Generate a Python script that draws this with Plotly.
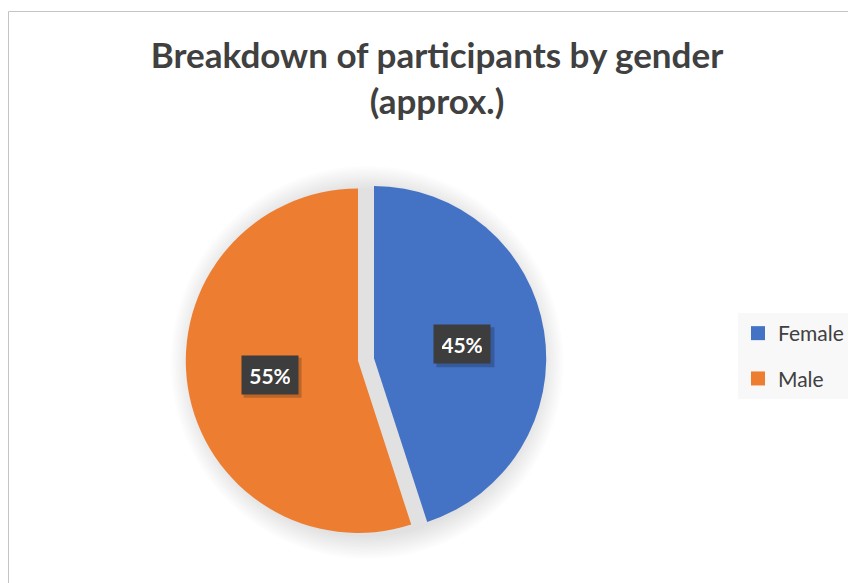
import math
import plotly.graph_objects as go

# ---- data ----
labels = ["Female", "Male"]
values = [45, 55]
colors = ["#4472C4", "#ED7D31"]
title_text = "Breakdown of participants by gender<br>(approx.)"

# the page body adds an 8px margin, so the figure is drawn 8px smaller
OFF = 8
W, H = 856 - OFF, 583 - OFF
PULL = 0.047
CX, CY = 366 - OFF, 359.5 - OFF   # pie centre in figure pixels
R = 172.2                         # slice radius in pixels
HALF = R * (1 + PULL)             # domain half-size in pixels
BOX_W, BOX_H, PAD = 40, 22, 8     # label box text area and padding


def dom(cx, cy, half):
    return dict(x=[(cx - half) / W, (cx + half) / W],
                y=[1 - (cy + half) / H, 1 - (cy - half) / H])


fig = go.Figure()

# soft shadow behind the pie
for k in range(1, 11):
    fig.add_trace(go.Pie(values=[1], labels=["shadow"], sort=False,
                         marker=dict(colors=["rgba(0,0,0,0.013)"], line=dict(width=0)),
                         textinfo="none", hoverinfo="skip", showlegend=False,
                         domain=dom(CX + 1, CY + 3, R + 2.4 * k)))

fig.add_trace(go.Pie(
    labels=labels, values=values, sort=False, direction="clockwise", rotation=0,
    pull=[PULL] * len(values),
    marker=dict(colors=colors, line=dict(width=0)),
    textinfo="none", hoverinfo="label+percent", showlegend=False,
    domain=dom(CX, CY, HALF),
))

# legend entries
for lab, col in zip(labels, colors):
    fig.add_trace(go.Scatter(x=[None], y=[None], mode="markers", name=lab,
                             legendgroup=lab,
                             marker=dict(symbol="square", size=14, color=col)))

# data labels in dark boxes (with a small drop shadow)
total = sum(values)
cum = 0
annotations = []
shapes = [dict(type="rect", xref="paper", yref="paper",
               x0=0.5 / W, y0=-0.02, x1=1.02, y1=1 - (11.5 - OFF) / H,
               line=dict(color="#c4c4c4", width=1), layer="below")]
for v in values:
    mid = (cum + v / 2) / total * 2 * math.pi
    cum += v
    d = (PULL + 0.52) * R
    px = CX + d * math.sin(mid)
    py = CY - d * math.cos(mid)
    hw = BOX_W / 2 + PAD + 1
    hh = BOX_H / 2 + PAD + 1
    shapes.append(dict(type="rect", xref="paper", yref="paper", layer="above",
                       x0=(px - hw + 3) / W, x1=(px + hw + 3) / W,
                       y0=1 - (py + hh + 3) / H, y1=1 - (py - hh + 3) / H,
                       fillcolor="rgba(0,0,0,0.2)", line=dict(width=0)))
    annotations.append(dict(
        x=px / W, y=1 - py / H, xref="paper", yref="paper", showarrow=False,
        text=f"<b>{round(v / total * 100)}%</b>",
        width=BOX_W, height=BOX_H, borderpad=PAD, xanchor="center", yanchor="middle",
        font=dict(family="Lato, Open Sans, sans-serif", size=21, color="white"),
        bgcolor="#3d3d3d"))

fig.update_layout(
    width=W, height=H, autosize=False,
    margin=dict(l=0, r=0, t=0, b=0),
    paper_bgcolor="white", plot_bgcolor="white",
    xaxis=dict(visible=False), yaxis=dict(visible=False),
    title=dict(text=f"<b>{title_text}</b>", x=(437 - OFF) / W, xanchor="center",
               y=1 - 60 / H, yanchor="top",
               font=dict(family="Lato, Open Sans, sans-serif", size=35, color="#404040")),
    legend=dict(x=(738 - OFF) / W, y=1 - (313 - OFF) / H, xanchor="left", yanchor="top",
                bgcolor="#f8f8f8", font=dict(family="Lato, Open Sans, sans-serif",
                                            size=21, color="#404040"),
                tracegroupgap=15, itemclick=False),
    annotations=annotations,
    shapes=shapes,
)

fig.write_html("out.html")
